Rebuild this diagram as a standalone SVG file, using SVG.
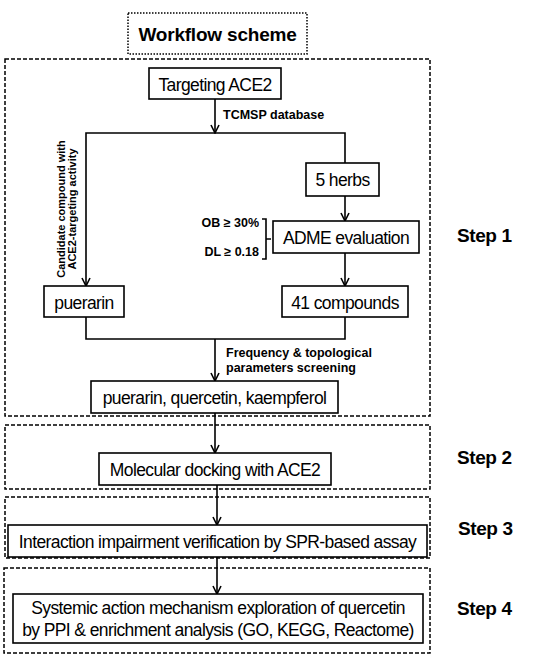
<svg xmlns="http://www.w3.org/2000/svg" width="550" height="663" viewBox="0 0 550 663">
<defs>
<style>
.box{fill:#fff;stroke:#000;stroke-width:1.6}
.dash{fill:none;stroke:#000;stroke-width:1.5;stroke-dasharray:4 2}
.dot{fill:none;stroke:#000;stroke-width:1.5;stroke-dasharray:1.5 1.5}
.t{font-family:"Liberation Sans",Arial,sans-serif;font-size:17.5px;letter-spacing:-0.6px;fill:#000;text-anchor:middle}
.b{font-family:"Liberation Sans",Arial,sans-serif;font-size:12.5px;font-weight:bold;fill:#000}
.s{font-family:"Liberation Sans",Arial,sans-serif;font-size:19px;letter-spacing:-0.4px;font-weight:bold;fill:#000}
.c{fill:none;stroke:#000;stroke-width:1.6}
</style>
<marker id="ah" viewBox="0 0 10 10" refX="9" refY="5" markerWidth="10" markerHeight="10" markerUnits="userSpaceOnUse" orient="auto">
<path d="M1,1 L9,5 L1,9" fill="none" stroke="#000" stroke-width="1.6"/>
</marker>
</defs>
<rect width="550" height="663" fill="#fff"/>
<g id="title">
<rect class="dot" x="128" y="13" width="179" height="41"/>
<text class="s" x="217.5" y="41" text-anchor="middle" style="letter-spacing:-0.2px">Workflow scheme</text>
</g>
<g id="step1-frame"><rect class="dash" x="5" y="59" width="425" height="357"/><text class="s" x="457" y="242">Step 1</text></g>
<g id="step2-frame"><rect class="dash" x="5" y="425" width="425" height="64"/><text class="s" x="457" y="464">Step 2</text></g>
<g id="step3-frame"><rect class="dash" x="5" y="497" width="425" height="61"/><text class="s" x="458" y="535">Step 3</text></g>
<g id="step4-frame"><rect class="dash" x="4" y="568" width="426" height="85"/><text class="s" x="457" y="615">Step 4</text></g>
<g id="connectors">
<line class="c" x1="215" y1="99" x2="215" y2="133" marker-end="url(#ah)"/>
<polyline class="c" points="345,163 345,133 86,133 86,286" marker-end="url(#ah)"/>
<line class="c" x1="345" y1="196" x2="345" y2="221" marker-end="url(#ah)"/>
<line class="c" x1="345" y1="253" x2="345" y2="286" marker-end="url(#ah)"/>
<polyline class="c" points="86,317 86,339 345,339 345,317"/>
<line class="c" x1="215" y1="339" x2="215" y2="381" marker-end="url(#ah)"/>
<line class="c" x1="215" y1="413" x2="215" y2="453" marker-end="url(#ah)"/>
<line class="c" x1="217" y1="485" x2="217" y2="525" marker-end="url(#ah)"/>
<line class="c" x1="217" y1="557" x2="217" y2="594" marker-end="url(#ah)"/>
<path class="c" d="M262,219 H266 V259 H262 M266,239 H271"/>
<text class="b" x="223" y="119">TCMSP database</text>
<text class="b" x="259" y="227" text-anchor="end">OB ≥ 30%</text>
<text class="b" x="259" y="256" text-anchor="end">DL ≥ 0.18</text>
<text class="b" x="226" y="357">Frequency &amp; topological</text>
<text class="b" x="226" y="372">parameters screening</text>
<g transform="translate(65,209) rotate(-90)">
<text class="b" x="0" y="0" text-anchor="middle" style="font-size:11px">Candidate compound with</text>
<text class="b" x="0" y="11" text-anchor="middle" style="font-size:11px">ACE2-targeting activity</text>
</g>
</g>
<g id="targeting"><rect class="box" x="149" y="68" width="132" height="31"/><text class="t" x="215" y="90.5">Targeting ACE2</text></g>
<g id="herbs"><rect class="box" x="306" y="163" width="73" height="33"/><text class="t" x="342.5" y="185.5">5 herbs</text></g>
<g id="adme"><rect class="box" x="273" y="221" width="146" height="32"/><text class="t" x="346" y="243.5">ADME evaluation</text></g>
<g id="compounds41"><rect class="box" x="282" y="286" width="126" height="31"/><text class="t" x="345" y="308.5">41 compounds</text></g>
<g id="puerarin"><rect class="box" x="44" y="286" width="80" height="31"/><text class="t" x="84" y="308.5">puerarin</text></g>
<g id="three"><rect class="box" x="91" y="381" width="247" height="32"/><text class="t" x="214.5" y="403.5">puerarin, quercetin, kaempferol</text></g>
<g id="docking"><rect class="box" x="99" y="453" width="232" height="32"/><text class="t" x="215" y="475.5">Molecular docking with ACE2</text></g>
<g id="spr"><rect class="box" x="8" y="525" width="419" height="32"/><text class="t" x="217.5" y="547.5">Interaction impairment verification by SPR-based assay</text></g>
<g id="systemic"><rect class="box" x="13" y="594" width="410" height="49"/><text class="t" x="218" y="614">Systemic action mechanism exploration of quercetin</text><text class="t" x="218" y="636">by PPI &amp; enrichment analysis (GO, KEGG, Reactome)</text></g>
</svg>
